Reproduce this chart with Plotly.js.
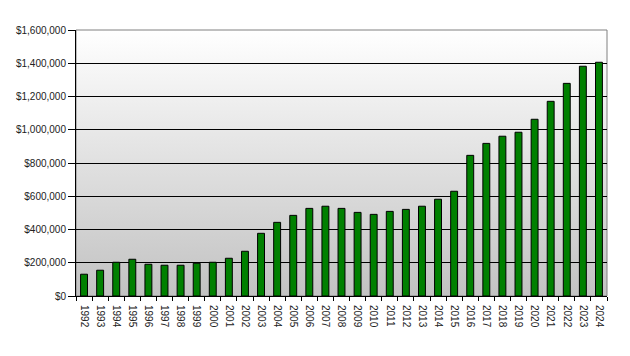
<!DOCTYPE html>
<html>
<head>
<meta charset="utf-8">
<script src="https://cdn.plot.ly/plotly-3.0.1.min.js"></script>
<style>html,body{margin:0;padding:0;background:#fff;}#chart{width:630px;height:356px;}</style>
</head>
<body>
<div id="chart"></div>
<script>
var years = ["1992","1993","1994","1995","1996","1997","1998","1999","2000","2001","2002","2003","2004","2005","2006","2007","2008","2009","2010","2011","2012","2013","2014","2015","2016","2017","2018","2019","2020","2021","2022","2023","2024"];
var values = [131000,155000,203000,221000,191000,185000,185000,197000,203000,227000,269000,377000,443000,485000,527000,540000,527000,503000,491000,509000,521000,540000,582000,630000,846000,918000,961000,985000,1063000,1171000,1279000,1382000,1406000];
var yTicks = [0,200000,400000,600000,800000,1000000,1200000,1400000,1600000];
var yTickText = ["$0","$200,000","$400,000","$600,000","$800,000","$1,000,000","$1,200,000","$1,400,000","$1,600,000"];

var grad = 'data:image/svg+xml;utf8,' + encodeURIComponent(
  '<svg xmlns="http://www.w3.org/2000/svg" width="100" height="100" preserveAspectRatio="none">' +
  '<defs><linearGradient id="g" x1="0" y1="0" x2="0" y2="1">' +
  '<stop offset="0" stop-color="#ffffff"/><stop offset="1" stop-color="#c2c2c2"/>' +
  '</linearGradient></defs><rect width="100" height="100" fill="url(#g)"/></svg>');

var trace = {
  type: 'bar', x: years, y: values,
  marker: {color: '#008000', line: {color: '#000000', width: 1}},
  hoverinfo: 'x+y'
};
var layout = {
  width: 630, height: 356,
  margin: {l: 76, r: 23, t: 30, b: 60},
  paper_bgcolor: '#ffffff',
  plot_bgcolor: 'rgba(0,0,0,0)',
  bargap: 0.57,
  showlegend: false,
  font: {family: 'Liberation Sans, Arial, sans-serif', size: 10, color: '#222'},
  images: [{source: grad, xref: 'paper', yref: 'paper', x: 0, y: 1, sizex: 1, sizey: 1,
            sizing: 'stretch', xanchor: 'left', yanchor: 'top', layer: 'below'}],
  shapes: [{type: 'rect', xref: 'paper', yref: 'paper', x0: 0, x1: 1, y0: 0, y1: 1,
            line: {color: '#808080', width: 1}, layer: 'below'}],
  xaxis: {
    type: 'category', tickangle: 90, showgrid: false, showline: true, linecolor: '#000', linewidth: 1,
    ticks: 'outside', tickson: 'boundaries', ticklen: 4, tickcolor: '#000',
    ticklabelstandoff: 6,
    tickfont: {size: 10, color: '#222'}, fixedrange: true
  },
  yaxis: {
    range: [0, 1600000], tickmode: 'array', tickvals: yTicks, ticktext: yTickText,
    showgrid: true, gridcolor: '#000', gridwidth: 1, zeroline: false,
    showline: true, linecolor: '#000', linewidth: 1,
    ticks: 'outside', ticklen: 7, tickcolor: '#000',
    tickfont: {size: 10, color: '#222'}, fixedrange: true
  }
};
Plotly.newPlot('chart', [trace], layout, {displayModeBar: false, staticPlot: true});
</script>
</body>
</html>
